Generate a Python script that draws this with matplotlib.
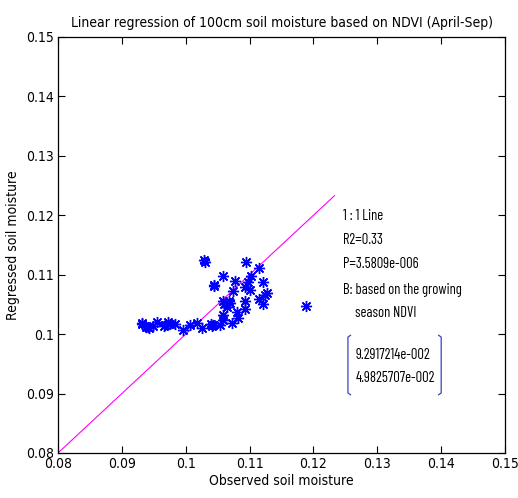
import matplotlib
matplotlib.use('Agg')
import matplotlib.pyplot as plt

### DATA ###
obs = [0.1028, 0.1030, 0.1094, 0.1058, 0.1115, 0.1044, 0.1045, 0.1077, 0.1102,
       0.1098, 0.1093, 0.1101, 0.1121, 0.1074, 0.1127, 0.1124, 0.1114, 0.1121,
       0.1189, 0.1058, 0.1063, 0.1067, 0.1060, 0.1065, 0.1070, 0.1093, 0.1093,
       0.1080, 0.1082, 0.1058, 0.1059, 0.1072, 0.1043, 0.1040, 0.1041, 0.1054,
       0.1025, 0.1017, 0.1007, 0.0995, 0.0983, 0.0975, 0.0973, 0.0966, 0.0967,
       0.0955, 0.0949, 0.0942, 0.0941, 0.0932, 0.0931, 0.0938]
reg = [0.1125, 0.1122, 0.1122, 0.1098, 0.1111, 0.1083, 0.1081, 0.1089, 0.1097,
       0.1088, 0.1080, 0.1074, 0.1087, 0.1072, 0.1069, 0.1066, 0.1059, 0.1051,
       0.1048, 0.1056, 0.1053, 0.1055, 0.1050, 0.1045, 0.1052, 0.1056, 0.1042,
       0.1038, 0.1027, 0.1032, 0.1024, 0.1018, 0.1015, 0.1017, 0.1013, 0.1015,
       0.1010, 0.1018, 0.1015, 0.1007, 0.1017, 0.1017, 0.1020, 0.1014, 0.1016,
       0.1021, 0.1014, 0.1010, 0.1012, 0.1017, 0.1019, 0.1012]
line_x = [0.08, 0.1233]
line_y = [0.08, 0.1233]
ticks = [0.08, 0.09, 0.10, 0.11, 0.12, 0.13, 0.14, 0.15]
tick_labels = ['0.08', '0.09', '0.1', '0.11', '0.12', '0.13', '0.14', '0.15']
notes = ['1 : 1 Line', 'R2=0.33', 'P=3.5809e-006', 'B: based on the growing']
note_y = [0.1199, 0.1158, 0.1118, 0.1074]
coefs = ['9.2917214e-002', '4.9825707e-002']
coef_y = [0.0965, 0.0926]

plt.rcParams['font.family'] = ['DejaVu Sans']
plt.rcParams['font.stretch'] = 'condensed'
fs = 10
note_font = ['Barlow Condensed', 'DejaVu Sans']

fig = plt.figure(figsize=(5.18, 4.98), dpi=100)
ax = fig.add_axes([0.112, 0.0904, 0.863, 0.8354])

ax.plot(line_x, line_y, color='magenta', linewidth=0.8)
ax.plot(obs, reg, linestyle='none', marker=(8, 2, 0), markersize=8,
        markeredgewidth=1.0, color='blue')

ax.set_xlim(0.08, 0.15)
ax.set_ylim(0.08, 0.15)
ax.set_xticks(ticks)
ax.set_xticklabels(tick_labels)
ax.set_yticks(ticks)
ax.set_yticklabels(tick_labels)
ax.tick_params(direction='in', length=5, top=True, right=True, labelsize=fs, pad=3)
for s in ax.spines.values():
    s.set_linewidth(0.9)

ax.set_title('Linear regression of 100cm soil moisture based on NDVI (April-Sep)', fontsize=fs, pad=7)
ax.set_xlabel('Observed soil moisture', fontsize=fs, labelpad=2)
ax.set_ylabel('Regressed soil moisture', fontsize=fs, labelpad=4)

for t, y in zip(notes, note_y):
    ax.text(0.1246, y, t, fontsize=10.5, va='center', family=note_font)
ax.text(0.1265, 0.1036, 'season NDVI', fontsize=10.5, va='center', family=note_font)
for t, y in zip(coefs, coef_y):
    ax.text(0.1266, y, t, fontsize=10.5, va='center', family=note_font)

# brackets around coefficients
bx0, bx1, by0, by1 = 0.1254, 0.1400, 0.0901, 0.0995
ax.plot([bx0 + 0.0004, bx0, bx0, bx0 + 0.0004], [by1 + 0.0003, by1, by0, by0 - 0.0003],
        color='#4040c0', linewidth=0.9)
ax.plot([bx1 - 0.0004, bx1, bx1, bx1 - 0.0004], [by1 + 0.0003, by1, by0, by0 - 0.0003],
        color='#4040c0', linewidth=0.9)

fig.savefig('out.png', dpi=100)
